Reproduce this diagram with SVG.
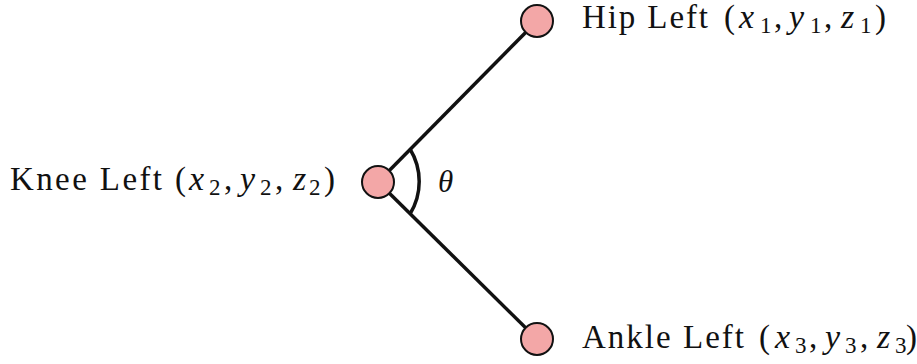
<svg xmlns="http://www.w3.org/2000/svg" width="917" height="364" viewBox="0 0 917 364">
<style>
text{font-family:"Liberation Serif","DejaVu Serif",serif;fill:#111}
.w{font-size:33px}
.m{font-size:34px;font-style:italic}
.p{font-size:33px}
.s{font-size:23px}
.node{fill:#f3a7a7;stroke:#111;stroke-width:2}
.edge{stroke:#111;stroke-width:3.5;fill:none}
</style>
<rect width="917" height="364" fill="#fff"/>
<g id="connectors">
<line class="edge" x1="378" y1="182" x2="537" y2="21"/>
<line class="edge" x1="378" y1="182" x2="537" y2="339"/>
<path class="edge" d="M410,149 A62,62 0 0 1 410,214"/>
</g>
<g id="hip">
<circle class="node" cx="537" cy="21" r="16"/>
<text class="w" x="582" y="28" textLength="126" lengthAdjust="spacing">Hip Left</text>
<text class="p" x="724" y="28">(</text>
<text class="m" x="739" y="28">x</text>
<text class="s" x="760" y="33">1</text>
<text class="p" x="774" y="28">,</text>
<text class="m" x="789" y="28">y</text>
<text class="s" x="810" y="33">1</text>
<text class="p" x="824" y="28">,</text>
<text class="m" x="841" y="28">z</text>
<text class="s" x="860" y="33">1</text>
<text class="p" x="875" y="28">)</text>
</g>
<g id="knee">
<circle class="node" cx="378" cy="182" r="16"/>
<text class="w" x="10" y="190" textLength="152" lengthAdjust="spacing">Knee Left</text>
<text class="p" x="175" y="190">(</text>
<text class="m" x="189" y="190">x</text>
<text class="s" x="209" y="195">2</text>
<text class="p" x="224" y="190">,</text>
<text class="m" x="240" y="190">y</text>
<text class="s" x="260" y="195">2</text>
<text class="p" x="275" y="190">,</text>
<text class="m" x="293" y="190">z</text>
<text class="s" x="309" y="195">2</text>
<text class="p" x="324" y="190">)</text>
</g>
<g id="angle">
<text class="m" x="438" y="192" style="font-size:31px">θ</text>
</g>
<g id="ankle">
<circle class="node" cx="537" cy="339" r="16"/>
<text class="w" x="582" y="348" textLength="162" lengthAdjust="spacing">Ankle Left</text>
<text class="p" x="759" y="348">(</text>
<text class="m" x="775" y="348">x</text>
<text class="s" x="795" y="353">3</text>
<text class="p" x="809" y="348">,</text>
<text class="m" x="825" y="348">y</text>
<text class="s" x="845" y="353">3</text>
<text class="p" x="860" y="348">,</text>
<text class="m" x="877" y="348">z</text>
<text class="s" x="895" y="353">3</text>
<text class="p" x="906" y="348">)</text>
</g>
</svg>
